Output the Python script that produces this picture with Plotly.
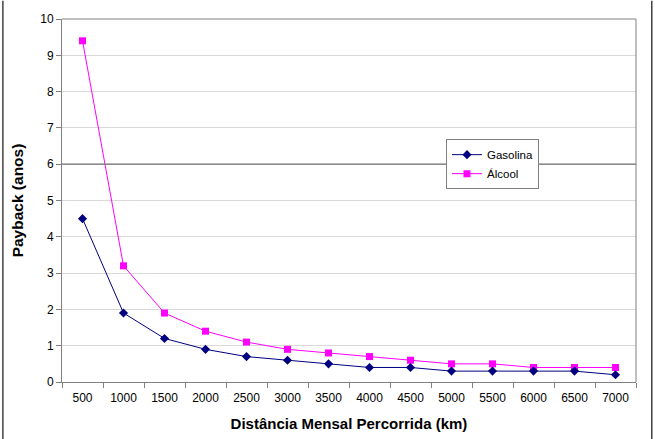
import plotly.graph_objects as go

distancias = ["500", "1000", "1500", "2000", "2500", "3000", "3500",
              "4000", "4500", "5000", "5500", "6000", "6500", "7000"]
gasolina = [4.5, 1.9, 1.2, 0.9, 0.7, 0.6, 0.5, 0.4, 0.4, 0.3, 0.3, 0.3, 0.3, 0.2]
alcool = [9.4, 3.2, 1.9, 1.4, 1.1, 0.9, 0.8, 0.7, 0.6, 0.5, 0.5, 0.4, 0.4, 0.4]
y_ticks = list(range(0, 11))

fig = go.Figure()
fig.add_trace(go.Scatter(
    x=distancias, y=alcool, name="Álcool", mode="lines+markers",
    line=dict(color="#ff00ff", width=1),
    marker=dict(symbol="square", size=7, color="#ff00ff"),
    legendrank=2,
))
fig.add_trace(go.Scatter(
    x=distancias, y=gasolina, name="Gasolina", mode="lines+markers",
    line=dict(color="#000080", width=1),
    marker=dict(symbol="diamond", size=7, color="#000080"),
    legendrank=1,
))

# darker reference line at y=6
fig.add_shape(type="line", xref="paper", yref="y", x0=0, x1=1, y0=6, y1=6,
              line=dict(color="#707070", width=1.3), layer="above")

# outer frame lines (left/right)
fig.add_shape(type="line", xref="paper", yref="paper", x0=-0.103, x1=-0.103, y0=-0.16, y1=1.05,
              line=dict(color="#404040", width=1.5))
fig.add_shape(type="line", xref="paper", yref="paper", x0=1.0275, x1=1.0275, y0=-0.16, y1=1.05,
              line=dict(color="#404040", width=1.5))

fig.update_layout(
    width=655, height=439,
    margin=dict(l=62, r=19, t=16, b=57),
    paper_bgcolor="white", plot_bgcolor="white",
    font=dict(family="Liberation Sans, Arial, sans-serif", size=12, color="black"),
    legend=dict(
        x=0.669, y=0.669, xanchor="left", yanchor="top",
        bgcolor="white", bordercolor="#808080", borderwidth=1,
        font=dict(size=11.5), itemwidth=30, tracegroupgap=0,
    ),
    xaxis=dict(
        type="category", tickson="boundaries", ticks="outside", ticklen=5,
        range=[-0.5, 13.5], ticklabelstandoff=5, automargin=False,
        tickcolor="#808080", showline=True, linecolor="#808080", linewidth=1,
        mirror=False, showgrid=False, zeroline=False,
        title=dict(text="<b>Distância Mensal Percorrida (km)</b>", font=dict(size=15), standoff=14),
        tickfont=dict(size=12),
    ),
    yaxis=dict(
        range=[0, 10], tickvals=y_ticks, ticks="outside", ticklen=5,
        tickcolor="#808080", showline=True, linecolor="#808080", linewidth=1,
        gridcolor="#d9d9d9", gridwidth=1, zeroline=False,
        title=dict(text="<b>Payback (anos)</b>", font=dict(size=15.5), standoff=12),
        tickfont=dict(size=12),
    ),
)
# top and right plot border
fig.add_shape(type="line", xref="paper", yref="paper", x0=0, x1=1, y0=1, y1=1,
              line=dict(color="#808080", width=1))
fig.add_shape(type="line", xref="paper", yref="paper", x0=1, x1=1, y0=0, y1=1,
              line=dict(color="#808080", width=1))

fig.write_html("out.html")
